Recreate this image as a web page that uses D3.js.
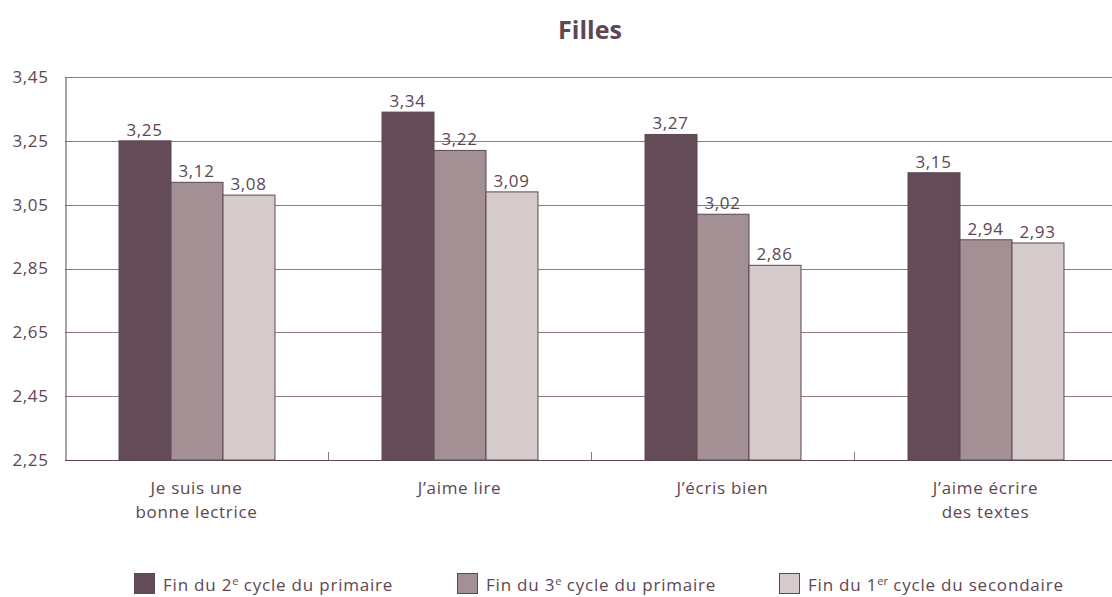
<!DOCTYPE html>
<html>
<head>
<meta charset="utf-8">
<script src="https://cdn.jsdelivr.net/npm/d3@7"></script>
<style>
  body { margin: 0; background: #fff; }
  svg text { font-family: "Open Sans", "Noto Sans", sans-serif; fill: #5e4652; }
</style>
</head>
<body>
<div id="chart"></div>
<script>
"use strict"

const categories = [["Je suis une", "bonne lectrice"], ["J\u2019aime lire"], ["J\u2019\u00e9cris bien"], ["J\u2019aime \u00e9crire", "des textes"]];
const series = ["s2", "s3", "s1s"];
const valuesPrimaire2 = [3.25, 3.34, 3.27, 3.15];
const valuesPrimaire3 = [3.12, 3.22, 3.02, 2.94];
const valuesSecondaire1 = [3.08, 3.09, 2.86, 2.93];
const yTicks = [2.25, 2.45, 2.65, 2.85, 3.05, 3.25, 3.45];
const legendLabels = [
    ["Fin du 2", "e", " cycle du primaire"],
    ["Fin du 3", "e", " cycle du primaire"],
    ["Fin du 1", "er", " cycle du secondaire"]
];
const colors = ["#634b57", "#a39094", "#d5cbcb"];

const width = 1112, height = 597;
const margin = { left: 65, right: -5, top: 77, bottom: 137 };

const svg = d3.select("#chart").append("svg")
    .attr("width", width)
    .attr("height", height);

const locale = d3.formatLocale({ decimal: ",", thousands: " ", grouping: [3], currency: ["", "\u00a0\u20ac"] });
const fmt = locale.format(".2f");

const x0 = d3.scaleBand()
    .domain(d3.range(categories.length))
    .range([margin.left, width - margin.right])
    .paddingInner(0.407)
    .paddingOuter(0.2035);

const x1 = d3.scaleBand()
    .domain(series)
    .range([0, x0.bandwidth()]);

const y = d3.scaleLinear()
    .domain([2.25, 3.45])
    .range([height - margin.bottom, margin.top]);

// title
svg.append("text")
    .attr("x", 590)
    .attr("y", 39)
    .attr("text-anchor", "middle")
    .style("font-size", "25px")
    .style("font-weight", "bold")
    .text("Filles");

// gridlines
svg.append("g").selectAll("line").data(yTicks).enter().append("line")
    .attr("x1", margin.left)
    .attr("x2", width - margin.right)
    .attr("y1", d => Math.round(y(d)) + 0.5)
    .attr("y2", d => Math.round(y(d)) + 0.5)
    .attr("stroke", d => d == 2.25 ? "#5e4652" : "#8d7a83")
    .attr("stroke-width", 1);

// y axis
const yAxis = svg.append("g")
    .attr("transform", `translate(${margin.left + 0.5},0)`)
    .call(d3.axisLeft(y).tickValues(yTicks).tickFormat(fmt).tickSize(0).tickPadding(17));
yAxis.select(".domain").attr("stroke", "#5e4652");
yAxis.selectAll("text")
    .style("font-size", "17px")
    .style("letter-spacing", "0.6px")
    .style("fill", "#5e4652")
    .style("font-family", "\"Open Sans\", \"Noto Sans\", sans-serif");

// separators between categories
svg.append("g").selectAll("line").data(d3.range(1, categories.length)).enter().append("line")
    .attr("x1", d => Math.round(x0(d) - x0.step() * x0.paddingInner() / 2) + 0.5)
    .attr("x2", d => Math.round(x0(d) - x0.step() * x0.paddingInner() / 2) + 0.5)
    .attr("y1", y(2.25))
    .attr("y2", y(2.25) - 8)
    .attr("stroke", "#8d7a83");

const allValues = [valuesPrimaire2, valuesPrimaire3, valuesSecondaire1];

const groups = svg.append("g").selectAll("g").data(categories).enter().append("g")
    .attr("transform", (d, i) => `translate(${x0(i)},0)`);

groups.selectAll("rect")
    .data((d, i) => series.map((s, k) => ({ s: s, k: k, v: allValues[k][i] })))
    .enter().append("rect")
    .attr("x", d => x1(d.s) + 0.5)
    .attr("width", x1.bandwidth())
    .attr("y", d => y(d.v))
    .attr("height", d => y(2.25) - y(d.v))
    .attr("fill", d => colors[d.k])
    .attr("stroke", "#5e4652")
    .attr("stroke-width", 1);

groups.selectAll("text.val")
    .data((d, i) => series.map((s, k) => ({ s: s, k: k, v: allValues[k][i] })))
    .enter().append("text")
    .attr("class", "val")
    .attr("x", d => x1(d.s) + x1.bandwidth() / 2)
    .attr("y", d => y(d.v) - 5)
    .attr("text-anchor", "middle")
    .style("font-size", "17px")
    .style("letter-spacing", "0.6px")
    .text(d => fmt(d.v));

// category labels
groups.each(function (d) {
    const t = d3.select(this).append("text")
        .attr("text-anchor", "middle")
        .style("font-size", "17px")
        .style("letter-spacing", "0.7px");
    d.forEach((line, j) => {
        t.append("tspan")
            .attr("x", x0.bandwidth() / 2)
            .attr("y", 494 + j * 24)
            .text(line);
    });
});

// legend
const legendX = [134, 457, 779];
const legend = svg.append("g").selectAll("g").data(legendLabels).enter().append("g")
    .attr("transform", (d, i) => `translate(${legendX[i]},573)`);

legend.append("rect")
    .attr("x", 0.5)
    .attr("y", 0.5)
    .attr("width", 20)
    .attr("height", 20)
    .attr("fill", (d, i) => colors[i])
    .attr("stroke", "#5e4652");

legend.append("text")
    .attr("x", 29)
    .attr("y", 18)
    .style("font-size", "17px")
    .style("letter-spacing", "0.8px")
    .each(function (d) {
        const t = d3.select(this);
        t.append("tspan").text(d[0]);
        t.append("tspan").attr("dy", -6).style("font-size", "11px").style("letter-spacing", "0px").text(d[1]);
        t.append("tspan").attr("dy", 6).text(d[2]);
    });
</script>
</body>
</html>
